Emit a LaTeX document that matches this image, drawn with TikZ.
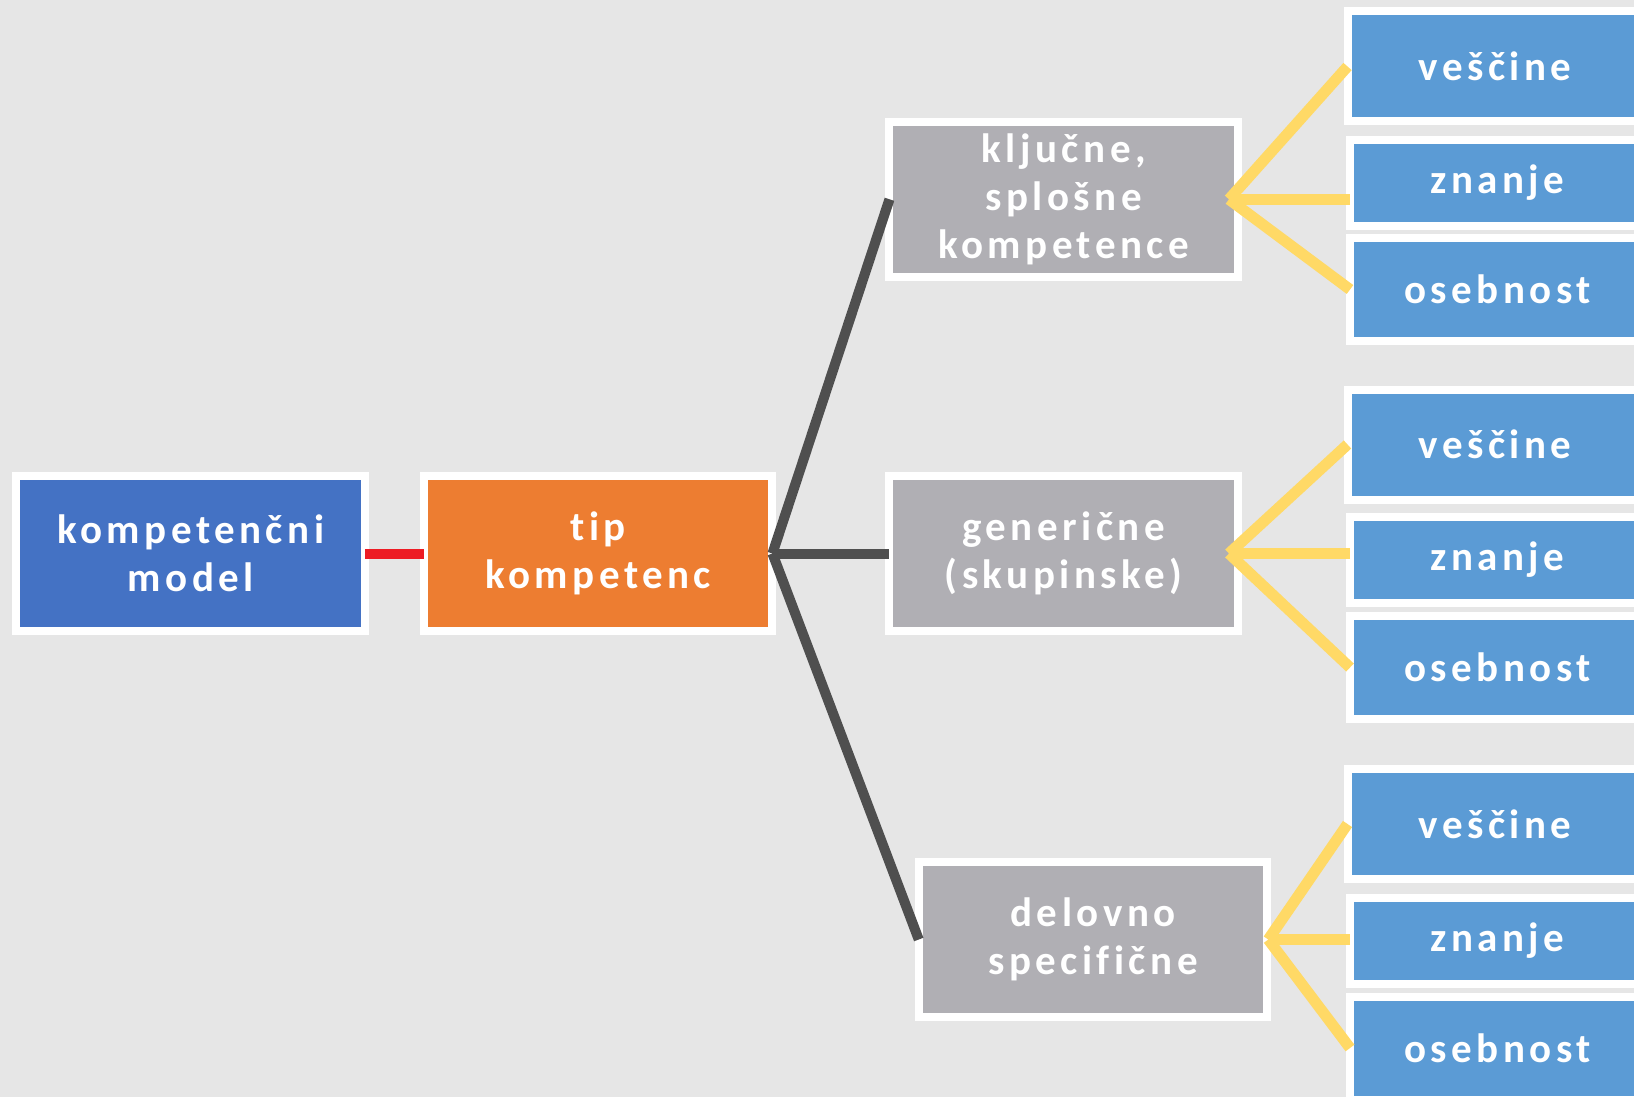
\documentclass[tikz,border=0pt]{standalone}
\usepackage{fontspec}
\newfontfamily\boxfont{Carlito}[LetterSpace=11, RawFeature=-liga]
\usetikzlibrary{positioning}
\definecolor{bgcol}{HTML}{E6E6E6}
\definecolor{modelblue}{HTML}{4472C4}
\definecolor{tiporange}{HTML}{ED7D31}
\definecolor{typegray}{HTML}{B0AFB4}
\definecolor{leafblue}{HTML}{5B9BD5}
\definecolor{twigyellow}{HTML}{FFD966}
\definecolor{trunkgray}{HTML}{4F4F4F}
\definecolor{linkred}{HTML}{ED1C24}
\tikzset{
    block/.style = {draw=white, rectangle, line width=8pt,
        inner sep=0pt, outer sep=0pt,
        minimum height=154.5pt,
        minimum width=348.5pt, align=center, text=white,
        font=\boxfont\bfseries\fontsize{41}{48}\selectfont},
    leaf/.style = {block, fill=leafblue, minimum width=295pt},
    trunk/.style = {draw=trunkgray, line width=10pt},
    twig/.style = {draw=twigyellow, line width=11pt},
    link/.style = {draw=linkred, line width=10pt}
}

\begin{document}
\begin{tikzpicture}[x=1pt, y=-1pt, node distance=407.5pt]
    \clip (0,0) rectangle (1634,1097);
    \fill [bgcol] (0,0) rectangle (1634,1097);
    \node [block, fill=modelblue] (model) at (190.7,553.5) {kompetenčni\\model};
    \node [block, fill=tiporange, right of=model] (tip) {tip\\kompetenc};
    \node [block, fill=typegray, right of=tip, node distance=465.5pt] (generic) {generične\\(skupinske)};
    \node [block, fill=typegray, above of=generic, node distance=354.2pt] (key) {ključne,\\splošne\\kompetence};
    \node [block, fill=typegray, below of=generic, node distance=386pt, xshift=29.3pt] (job) {delovno\\specifične};
    \draw [link] (model) -- (tip);
    \draw [trunk] (tip.east) -- (key.west);
    \draw [trunk] (tip.east) -- (generic.west);
    \draw [trunk] (tip.east) -- (job.west);
    % skill, knowledge, personality per type
    \foreach \grp/\hx/\vy/\zy/\oy in {key/-9/66.5/182.8/289.5, generic/-9/444.5/559.6/667.5, job/1/824/941/1048} {
        \node [leaf, minimum height=110pt] (\grp-v) at (1495,\vy) {veščine};
        \node [leaf, minimum height=86pt] (\grp-z) at (1497.5,\zy) {znanje};
        \node [leaf, minimum height=103pt] (\grp-o) at (1497.5,\oy) {osebnost};
        \coordinate (\grp-hub) at ([xshift=\hx pt]\grp.east);
        \draw [twig] (\grp-hub) -- (\grp-v.west);
        \draw [twig] (\grp-hub) -- (\grp-hub -| \grp-z.west);
        \draw [twig] (\grp-hub) -- (\grp-o.west);
    }
\end{tikzpicture}
\end{document}
